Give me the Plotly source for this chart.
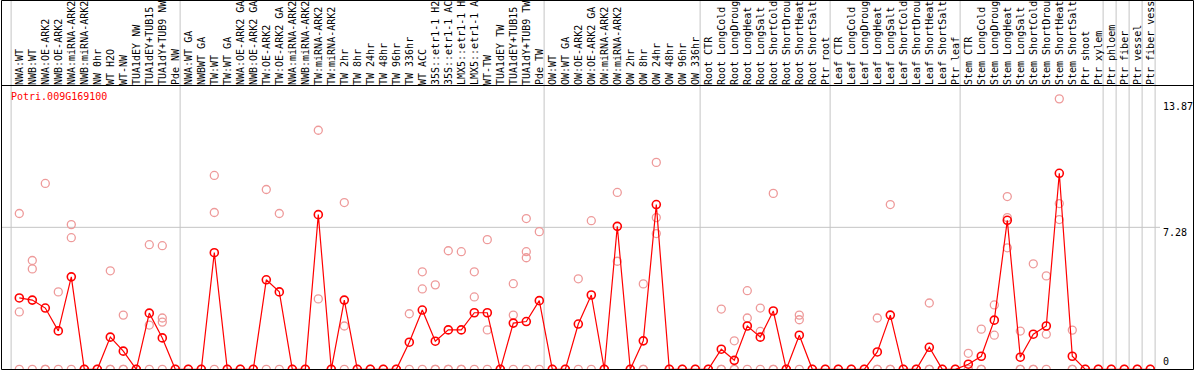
import plotly.graph_objects as go

# ---------------- data ----------------
categories = [
    "NWA:WT", "NWB:WT", "NWA:OE-ARK2", "NWB:OE-ARK2", "NWA:miRNA-ARK2", "NWB:miRNA-ARK2",
    "NW 0hr", "WT H2O", "WT-NW", "TUA1dEY NW", "TUA1dEY+TUB15 NW", "TUA1dY+TUB9 NW", "Pde NW",
    "NWA:WT GA", "NWBWT GA", "TW:WT", "TW:WT GA", "NWA:OE-ARK2 GA", "NWB:OE-ARK2 GA",
    "TW:OE-ARK2", "TW:OE-ARK2 GA", "NWA:miRNA-ARK2 GA", "NWB:miRNA-ARK2 GA", "TW:miRNA-ARK2",
    "TW:miRNA-ARK2 GA", "TW 2hr", "TW 8hr", "TW 24hr", "TW 48hr", "TW 96hr", "TW 336hr",
    "WT ACC", "35S::etr1-1 H2O", "35S::etr1-1 ACC", "LMX5::etr1-1 H2O", "LMX5::etr1-1 ACC",
    "WT-TW", "TUA1dEY TW", "TUA1dEY+TUB15 TW", "TUA1dY+TUB9 TW", "Pde TW",
    "OW:WT", "OW:WT GA", "OW:OE-ARK2", "OW:OE-ARK2 GA", "OW:miRNA-ARK2", "OW:miRNA-ARK2 GA",
    "OW 2hr", "OW 8hr", "OW 24hr", "OW 48hr", "OW 96hr", "OW 336hr",
    "Root CTR", "Root LongCold", "Root LongDrought", "Root LongHeat", "Root LongSalt",
    "Root ShortCold", "Root ShortDrought", "Root ShortHeat", "Root ShortSalt", "Ptr root",
    "Leaf CTR", "Leaf LongCold", "Leaf LongDrought", "Leaf LongHeat", "Leaf LongSalt",
    "Leaf ShortCold", "Leaf ShortDrought", "Leaf ShortHeat", "Leaf ShortSalt", "Ptr leaf",
    "Stem CTR", "Stem LongCold", "Stem LongDrought", "Stem LongHeat", "Stem LongSalt",
    "Stem ShortCold", "Stem ShortDrought", "Stem ShortHeat", "Stem ShortSalt", "Ptr shoot",
    "Ptr xylem", "Ptr phloem", "Ptr fiber", "Ptr vessel", "Ptr fiber vessel",
]

group_sizes = [13, 28, 12, 10, 10, 11, 1, 1, 1, 1]

means = [
    3.66, 3.55, 3.14, 1.97, 4.74, 0, 0, 1.65, 0.93, 0, 2.88, 1.61, 0,
    0, 0, 5.98, 0, 0, 0, 4.59, 3.97, 0, 0, 7.93, 0, 3.55, 0, 0, 0, 0, 1.39,
    3.04, 1.44, 2.02, 2.02, 2.90, 2.90, 0, 2.37, 2.45, 3.52,
    0, 0, 2.32, 3.81, 0, 7.33, 0, 1.46, 8.45, 0, 0, 0,
    0, 1.03, 0.46, 2.22, 1.65, 2.99, 0, 1.75, 0, 0,
    0, 0, 0, 0.89, 2.78, 0, 0, 1.13, 0, 0,
    0.26, 0.67, 2.52, 7.64, 0.62, 1.80, 2.22, 10.05, 0.67, 0, 0,
    0, 0, 0, 0,
]

replicates = [
    [7.99, 2.94, 0], [5.58, 5.15, 0], [9.53, 0, 0], [3.97, 0], [7.42, 6.75, 0],
    [0, 0], [0, 0], [5.05, 0, 0], [2.78, 0, 0], [0, 0], [6.39, 2.27, 0],
    [6.34, 2.63, 2.42, 0], [0, 0],
    [0, 0], [0, 0], [9.94, 8.04, 0], [0, 0], [0, 0], [0, 0], [9.22, 0], [7.99, 0],
    [0, 0], [0, 0], [12.26, 3.61], [0, 0], [8.55, 2.22, 0], [0, 0], [0, 0], [0, 0],
    [0, 0], [2.85, 0], [5.00, 4.12, 0], [4.33, 0, 0], [6.08, 0, 0], [6.03, 0, 0],
    [5.00, 3.71, 0], [6.65, 2.02, 0], [0, 0], [4.39, 2.78, 0], [7.73, 6.03, 5.72, 0],
    [7.06, 0],
    [0, 0], [0, 0], [4.64, 0], [7.62, 0], [0, 0], [9.07, 5.54], [0, 0], [4.38, 0, 0],
    [10.61, 7.78, 6.96], [0, 0], [0, 0], [0, 0],
    [0, 0], [3.09, 0, 0], [1.46, 0, 0], [4.03, 2.63, 0], [3.14, 1.94, 0], [9.02, 0, 0],
    [0, 0], [2.78, 2.54, 0], [0, 0], [0, 0],
    [0, 0], [0, 0], [0, 0], [2.63, 0, 0], [8.45, 0, 0], [0, 0], [0, 0], [3.40, 0, 0],
    [0, 0], [0, 0],
    [0.82, 0, 0], [2.06, 0, 0], [3.30, 1.75], [8.86, 7.78, 6.23], [1.96, 0, 0],
    [5.41, 0, 0], [4.79, 1.80, 0], [13.87, 8.50, 7.68], [2.01, 0, 0], [0, 0], [0, 0],
    [0, 0], [0, 0], [0, 0], [0, 0],
]

y_tick_values = [0, 7.28, 13.87]
y_tick_labels = ["0", "7.28", "13.87"]
gene_name = "Potri.009G169100"

# ---------------- figure ----------------
W, H = 1194, 370
L, R, T, B = 2, 1, 86, 0
PW, PH = W - L - R, H - T - B
X0, STEP = 19.3, 13.0          # pixel of first category, pixel step


def pxx(p):  # pixel x -> paper
    return (p - L) / PW


def pxy(p):  # pixel y -> paper
    return (H - B - p) / PH


xmin = (L - X0) / STEP
xmax = (W - R - X0) / STEP
y_scale = 19.5
ymin = -(H - B - 369.3) / y_scale
ymax = (369.3 - T) / y_scale

idx = list(range(len(categories)))
rep_x, rep_y = [], []
for i, reps in enumerate(replicates):
    for v in reps:
        rep_x.append(i)
        rep_y.append(v)

mono = "DejaVu Sans Mono"
fig = go.Figure()
fig.add_trace(go.Scatter(
    x=rep_x, y=rep_y, mode="markers",
    marker=dict(symbol="circle-open", size=8, color="#ee9a9a", line=dict(width=1.3)),
    hoverinfo="skip", showlegend=False,
))
fig.add_trace(go.Scatter(
    x=idx, y=means, mode="lines+markers",
    line=dict(color="#ff0000", width=1.2),
    marker=dict(symbol="circle-open", size=8, color="#ff0000", line=dict(width=1.6)),
    showlegend=False,
))

shapes = []
# group separators
start = 0
bounds = [0]
for g in group_sizes:
    start += g
    bounds.append(start)
for b in bounds:
    shapes.append(dict(type="line", xref="x", yref="paper", x0=b - 0.63, x1=b - 0.63,
                       y0=0, y1=pxy(0), line=dict(color="#c4c4c4", width=1), layer="below"))
# grid line at 7.28
shapes.append(dict(type="line", xref="x", yref="y", x0=xmin, x1=(1160 - X0) / STEP,
                   y0=7.28, y1=7.28, line=dict(color="#c4c4c4", width=1), layer="below"))
# frame
shapes.append(dict(type="rect", xref="paper", yref="paper", x0=pxx(1.5), x1=pxx(1193.5),
                   y0=pxy(369.5), y1=pxy(0.5), line=dict(color="black", width=1)))
shapes.append(dict(type="line", xref="paper", yref="paper", x0=pxx(1.5), x1=pxx(1193.5),
                   y0=pxy(85.5), y1=pxy(85.5), line=dict(color="black", width=1)))

annotations = [dict(text=gene_name, xref="paper", yref="paper", x=pxx(9), y=pxy(97),
                    xanchor="left", yanchor="middle", showarrow=False,
                    font=dict(family=mono, size=10, color="#ff0000"))]
label_py = {0: 361.7, 7.28: 232.7, 13.87: 106.7}
for v, t in zip(y_tick_values, y_tick_labels):
    annotations.append(dict(text=t, xref="paper", yref="paper", x=pxx(1161), y=pxy(label_py[v]),
                            xanchor="left", yanchor="middle", showarrow=False,
                            font=dict(family=mono, size=10, color="black")))

fig.update_layout(
    width=W, height=H, margin=dict(l=L, r=R, t=T, b=B, pad=0),
    paper_bgcolor="white", plot_bgcolor="white",
    shapes=shapes, annotations=annotations,
    xaxis=dict(range=[xmin, xmax], side="top", tickmode="array", tickvals=idx,
               ticktext=categories, tickangle=-90, showgrid=False, zeroline=False,
               showline=False, ticks="", automargin=False,
               tickfont=dict(family=mono, size=10, color="black")),
    yaxis=dict(range=[ymin, ymax], showgrid=False, zeroline=False, showline=False,
               showticklabels=False, ticks="", automargin=False),
)

fig.write_html(
    "out.html",
    config={"displayModeBar": False},
    post_script="document.body.style.margin='0';document.body.style.padding='0';"
                "document.body.style.overflow='hidden';",
)
